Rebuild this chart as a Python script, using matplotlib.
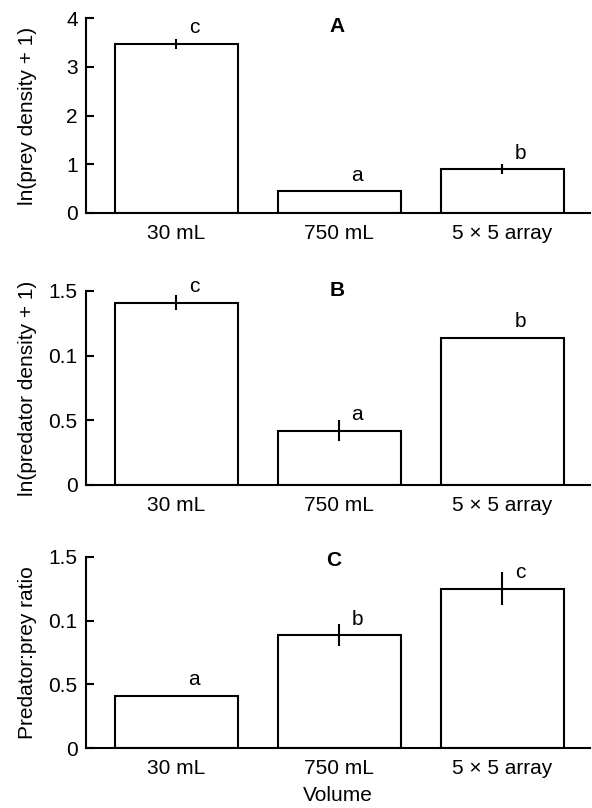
import matplotlib
matplotlib.use("Agg")
import matplotlib.pyplot as plt
import numpy as np

plt.rcParams["font.family"] = ["Liberation Sans", "DejaVu Sans"]

categories = ["30 mL", "750 mL", "5 \u00d7 5 array"]

prey_vals = [3.47, 0.45, 0.90]
prey_err = [0.10, 0.02, 0.10]
prey_letters = ["c", "a", "b"]

pred_vals = [1.41, 0.42, 1.14]
pred_err = [0.06, 0.08, 0.005]
pred_letters = ["c", "a", "b"]

ratio_vals = [0.41, 0.885, 1.25]
ratio_err = [0.01, 0.085, 0.13]
ratio_letters = ["a", "b", "c"]

W, H = 592, 808
fig = plt.figure(figsize=(W / 100, H / 100), dpi=100)

# axes boxes in pixels: (left, top, right, bottom)
boxes = [(86, 18, 590, 213), (86, 291, 590, 485), (86, 557, 590, 748)]

panels = [
    dict(vals=prey_vals, err=prey_err, letters=prey_letters, ylim=4,
         yticks=[0, 1, 2, 3, 4], yticklabels=["0", "1", "2", "3", "4"],
         ylabel="ln(prey density + 1)", tag="A", tagpos=(337, 27)),
    dict(vals=pred_vals, err=pred_err, letters=pred_letters, ylim=1.5,
         yticks=[0, 0.5, 1.0, 1.5], yticklabels=["0", "0.5", "0.1", "1.5"],
         ylabel="ln(predator density + 1)", tag="B", tagpos=(337, 290)),
    dict(vals=ratio_vals, err=ratio_err, letters=ratio_letters, ylim=1.5,
         yticks=[0, 0.5, 1.0, 1.5], yticklabels=["0", "0.5", "0.1", "1.5"],
         ylabel="Predator:prey ratio", tag="C", tagpos=(334, 560)),
]

x = np.arange(len(categories))
for (l, t, r, b), p in zip(boxes, panels):
    ax = fig.add_axes([l / W, 1 - b / H, (r - l) / W, (b - t) / H])
    ax.bar(x, p["vals"], width=0.755, color="white", edgecolor="black", linewidth=1.5)
    ax.errorbar(x, p["vals"], yerr=p["err"], fmt="none", ecolor="black",
                elinewidth=1.5, capsize=0)
    for xi, v, let in zip(x, p["vals"], p["letters"]):
        ax.annotate(let, (xi, v), xytext=(13, 11.5), textcoords="offset points",
                    ha="center", va="center", fontsize=15)
    ax.set_xlim(-0.555, 2.54)
    ax.set_ylim(0, p["ylim"])
    ax.set_yticks(p["yticks"])
    ax.set_yticklabels(p["yticklabels"])
    ax.set_xticks(x)
    ax.set_xticklabels(categories)
    ax.tick_params(axis="y", direction="in", length=6, width=1.5, labelsize=15, pad=6)
    ax.tick_params(axis="x", length=0, labelsize=15, pad=8)
    for s in ["top", "right"]:
        ax.spines[s].set_visible(False)
    for s in ["left", "bottom"]:
        ax.spines[s].set_linewidth(1.5)
    ax.set_ylabel(p["ylabel"], fontsize=15)
    ax.yaxis.set_label_coords(-0.098, 0.5)
    fig.text(p["tagpos"][0] / W, 1 - p["tagpos"][1] / H, p["tag"],
             fontsize=15, fontweight="bold", ha="center", va="center")

ax.set_xlabel("Volume", fontsize=15, labelpad=6)

fig.savefig("out.png", dpi=100)
